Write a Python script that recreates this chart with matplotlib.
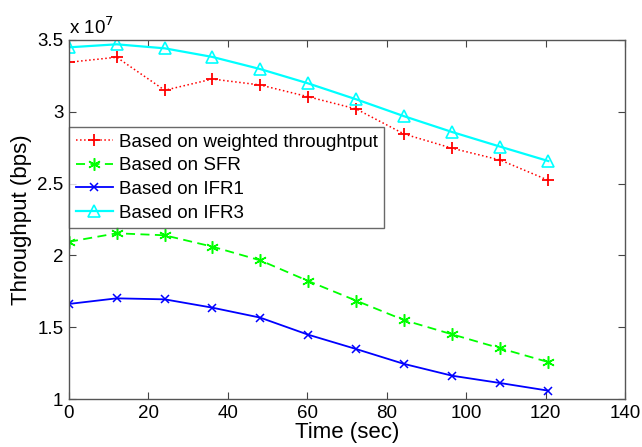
import numpy as np
import matplotlib
matplotlib.use('Agg')
import matplotlib.pyplot as plt
from matplotlib.ticker import FuncFormatter

# time samples (sec)
time_sec = [0, 12.0, 24.1, 36.1, 48.1, 60.2, 72.3, 84.4, 96.5, 108.6, 120.7]

# throughput values in units of 1e7 bps
weighted = [3.345, 3.38, 3.15, 3.228, 3.187, 3.105, 3.02, 2.845, 2.746, 2.664, 2.523]
sfr = [2.095, 2.154, 2.14, 2.061, 1.966, 1.822, 1.685, 1.549, 1.45, 1.353, 1.257]
ifr1 = [1.662, 1.701, 1.694, 1.636, 1.567, 1.448, 1.348, 1.244, 1.162, 1.111, 1.058]
ifr3 = [3.449, 3.47, 3.442, 3.382, 3.298, 3.198, 3.087, 2.969, 2.859, 2.757, 2.657]

labels = ['Based on weighted throughtput', 'Based on SFR', 'Based on IFR1', 'Based on IFR3']

plt.rcParams['font.family'] = ['Liberation Sans', 'DejaVu Sans']

fig = plt.figure(figsize=(6.42, 4.47), dpi=100)
ax = fig.add_axes([69 / 642, 48 / 447, 556 / 642, 359 / 447])

scale = 1e7
t = np.array(time_sec)
ax.plot(t, np.array(weighted) * scale, color='red', linestyle=':', marker='+',
        markersize=9, markeredgewidth=1.3, linewidth=1.1, label=labels[0])
ax.plot(t, np.array(sfr) * scale, color='#00ff00', linestyle='--', marker=(6, 2, 0),
        markersize=9, markeredgewidth=1.1, linewidth=1.3, label=labels[1], dashes=(5, 3))
ax.plot(t, np.array(ifr1) * scale, color='blue', linestyle='-', marker='x',
        markersize=6, markeredgewidth=1.1, linewidth=1.3, label=labels[2])
ax.plot(t, np.array(ifr3) * scale, color='cyan', linestyle='-', marker='^',
        markersize=8, markerfacecolor='none', markeredgewidth=1.2, linewidth=1.6, label=labels[3])

ax.set_xlim(0, 140)
ax.set_ylim(1e7, 3.5e7)
ax.set_xticks(np.arange(0, 141, 20))
ax.set_yticks(np.arange(1, 3.51, 0.5) * scale)
ax.yaxis.set_major_formatter(FuncFormatter(lambda v, p: ('%g' % (v / scale))))

ax.tick_params(direction='in', length=5, top=True, right=True, labelsize=13.5,
               color='#444444', pad=4)
for s in ax.spines.values():
    s.set_color('#555555')
    s.set_linewidth(1.0)

ax.text(0.0, 1.005, r'x 10$^{7}$', transform=ax.transAxes, fontsize=13.5,
        ha='left', va='bottom')

ax.set_xlabel('Time (sec)', fontsize=16, labelpad=0)
ax.set_ylabel('Throughput (bps)', fontsize=16, labelpad=4)

leg = ax.legend(loc='upper left', bbox_to_anchor=(0.0, 0.758), fontsize=13.5,
                frameon=True, fancybox=False, borderaxespad=0, handlelength=2.0,
                handletextpad=0.3, labelspacing=0.35, borderpad=0.35)
leg.get_frame().set_edgecolor('#444444')
leg.get_frame().set_linewidth(1.0)

fig.savefig('out.png', dpi=100)
